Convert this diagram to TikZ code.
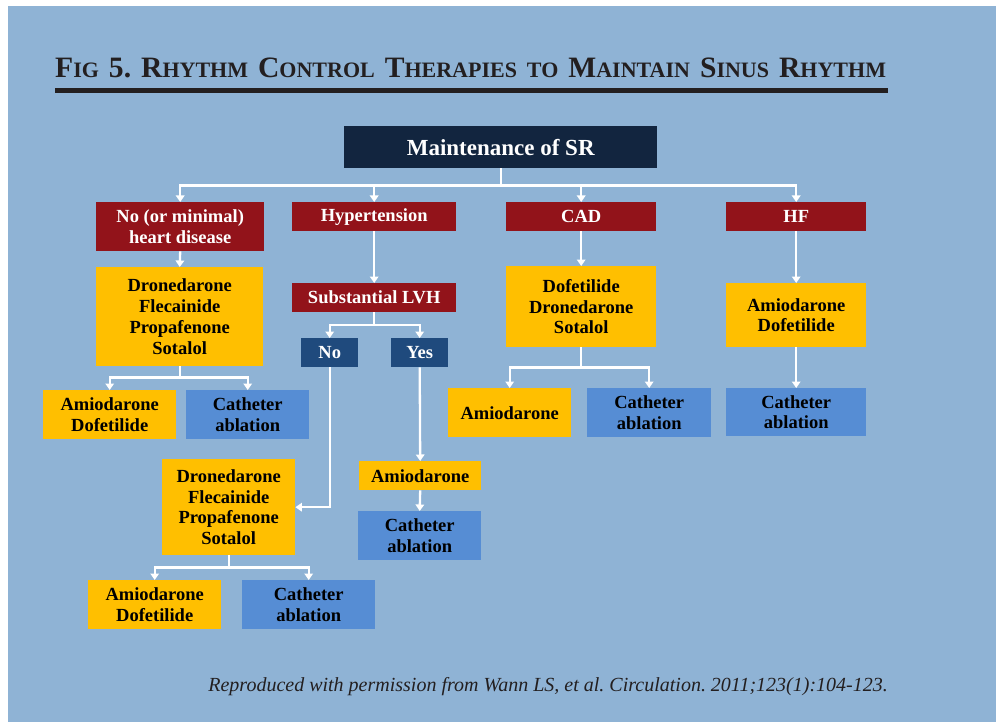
\documentclass[tikz,border=0pt]{standalone}
\usepackage{fontspec}
\setmainfont{Liberation Serif}
\usetikzlibrary{arrows.meta}

\definecolor{bgblue}{HTML}{8FB3D5}
\definecolor{navy}{HTML}{12253F}
\definecolor{condred}{HTML}{92131A}
\definecolor{ynblue}{HTML}{1F4A7D}
\definecolor{drugyellow}{HTML}{FFBF00}
\definecolor{ablblue}{HTML}{568DD4}
\definecolor{inkgray}{HTML}{231F20}

% fake small caps for the heading
\newcommand\smc[2]{{\fontsize{29.6}{29.6}\selectfont #1}{\fontsize{22}{22}\selectfont #2}}
\newcommand\gap{\hspace{10pt}}

\begin{document}
\frenchspacing
\begin{tikzpicture} [x = 1pt, y = -1pt,
  box/.style = {anchor = north west, inner sep = 0pt, align = center,
    font = \bfseries\fontsize{18.5}{20.7}\selectfont},
  top/.style = {box, fill = navy, text = white, font = \bfseries\fontsize{23}{25}\selectfont},
  cond/.style = {box, fill = condred, text = white},
  yn/.style = {box, fill = ynblue, text = white},
  drug/.style = {box, fill = drugyellow, text = black},
  abl/.style = {box, fill = ablblue, text = black},
  flow/.style = {white, line width = 2.3pt, -{Triangle[width = 8.5pt, length = 6.5pt]}}]

\useasboundingbox (0,0) rectangle (996,722);
\fill [white] (0,0) rectangle (996,722);
\fill [bgblue] (8,6) rectangle (996,722);

\node (title) [anchor = base west, inner sep = 0pt, text = inkgray, font = \bfseries] at (55,78)
  {\smc{F}{IG}\gap{\fontsize{29.6}{29.6}\selectfont 5.}\gap\smc{R}{HYTHM}\gap\smc{C}{ONTROL}\gap\smc{T}{HERAPIES}\gap
   \smc{}{TO}\gap\smc{M}{AINTAIN}\gap\smc{S}{INUS}\gap\smc{R}{HYTHM}};
\draw [inkgray, line width = 5pt] (55,90.5) -- (888,90.5);

\node (main) [top, minimum width = 313pt, minimum height = 42pt] at (344,126) {Maintenance of SR};

\node (cnone) [cond, minimum width = 168pt, minimum height = 49pt] at (96,202) {No (or minimal)\\heart disease};
\node (chtn) [cond, minimum width = 164pt, minimum height = 29pt] at (292,202) {Hypertension};
\node (ccad) [cond, minimum width = 150pt, minimum height = 29pt] at (506,202) {CAD};
\node (chf) [cond, minimum width = 140pt, minimum height = 29pt] at (726,202) {HF};

\node (d1) [drug, minimum width = 167pt, minimum height = 99pt] at (96,267) {Dronedarone\\Flecainide\\Propafenone\\Sotalol};
\node (lvh) [cond, minimum width = 164pt, minimum height = 29pt] at (292,283) {Substantial LVH};
\node (dcad) [drug, minimum width = 150pt, minimum height = 81pt] at (506,266) {Dofetilide\\Dronedarone\\Sotalol};
\node (dhf) [drug, minimum width = 140pt, minimum height = 64pt] at (726,283) {Amiodarone\\Dofetilide};

\node (no) [yn, minimum width = 57pt, minimum height = 29pt] at (301,338) {No};
\node (yes) [yn, minimum width = 57pt, minimum height = 29pt] at (391,338) {Yes};

\node (a1) [drug, minimum width = 133pt, minimum height = 49pt] at (43,390) {Amiodarone\\Dofetilide};
\node (ab1) [abl, minimum width = 123pt, minimum height = 49pt] at (186,390) {Catheter\\ablation};
\node (acad) [drug, minimum width = 123pt, minimum height = 49pt] at (448,388) {Amiodarone};
\node (abcad) [abl, minimum width = 124pt, minimum height = 49pt] at (587,388) {Catheter\\ablation};
\node (abhf) [abl, minimum width = 140pt, minimum height = 48pt] at (726,388) {Catheter\\ablation};

\node (ayes) [drug, minimum width = 122pt, minimum height = 29pt] at (359,461) {Amiodarone};
\node (abyes) [abl, minimum width = 123pt, minimum height = 49pt] at (358,511) {Catheter\\ablation};
\node (d2) [drug, minimum width = 133pt, minimum height = 96pt] at (162,459) {Dronedarone\\Flecainide\\Propafenone\\Sotalol};
\node (a2) [drug, minimum width = 133pt, minimum height = 49pt] at (88,580) {Amiodarone\\Dofetilide};
\node (ab2) [abl, minimum width = 133pt, minimum height = 49pt] at (242,580) {Catheter\\ablation};

\node (credit) [anchor = base east, inner sep = 0pt, text = inkgray, font = \itshape\fontsize{20}{20}\selectfont] at (888,691)
  {Reproduced with permission from Wann LS, et al. Circulation. 2011;123(1):104-123.};

% branches
\draw [flow] (main.south) -- ++(0,17) -| (cnone.north);
\draw [flow] (main.south) -- ++(0,17) -| (chtn.north);
\draw [flow] (main.south) -- ++(0,17) -| (ccad.north);
\draw [flow] (main.south) -- ++(0,17) -| (chf.north);
\draw [flow] (d1.south) -- ++(0,11) -| (a1.north);
\draw [flow] (d1.south) -- ++(0,11) -| (ab1.north);
\draw [flow] (lvh.south) -- ++(0,12.5) -| (no.north);
\draw [flow] (lvh.south) -- ++(0,12.5) -| (yes.north);
\draw [flow] (no.south) |- (d2.east);
\draw [flow] (dcad.south) -- ++(0,20) -| (acad.north);
\draw [flow] (dcad.south) -- ++(0,20) -| (abcad.north);
\draw [flow] (d2.south) -- ++(0,12) -| (a2.north);
\draw [flow] (d2.south) -- ++(0,12) -| (ab2.north);

\path [flow]
	(cnone.south) edge (d1.north)
	(chtn.south) edge (lvh.north)
	(ccad.south) edge (dcad.north)
	(chf.south) edge (dhf.north)
	(dhf.south) edge (abhf.north)
	(yes.south) edge (ayes.north)
	(ayes.south) edge (abyes.north);
\end{tikzpicture}
\end{document}
